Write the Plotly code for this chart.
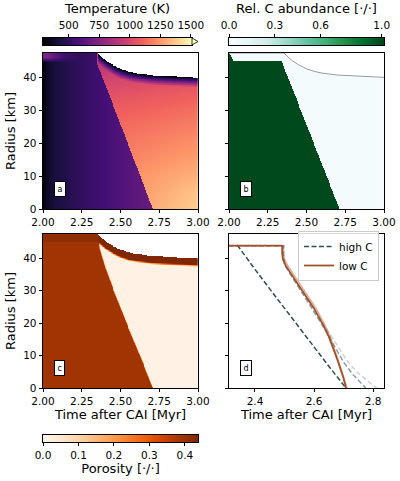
import numpy as np
import plotly.graph_objects as go

# ---- data ----
# planetesimal surface radius vs time
surface_t = [2.00, 2.355, 2.38, 2.41, 2.45, 2.50, 2.55, 2.60, 2.70, 2.80, 3.00]
surface_r = [47.4, 47.4, 46.2, 45.0, 43.8, 42.6, 41.8, 41.3, 40.7, 40.4, 40.0]

# reaction front (panels a / b): time the front reaches a given radius
front_r = [0.0, 44.8]
front_t = [2.712, 2.346]
front_b_r = [0.0, 45.0]
front_b_t = [2.716, 2.340]
front_c_r = [0.0, 7.5, 19.0, 30.5, 37.0, 43.0, 47.4]
front_c_t = [2.712, 2.650, 2.550, 2.455, 2.405, 2.368, 2.360]

# temperature (K)
cold_t = [2.00, 2.02, 2.05, 2.10, 2.20, 2.30, 2.40, 2.50, 2.60, 2.72]
cold_T = [290, 350, 400, 436, 485, 522, 558, 595, 632, 668]
hot_r = [0, 5, 10, 15, 20, 25, 30, 35, 40, 45]
hot_T_front = [1300, 1270, 1240, 1200, 1165, 1130, 1090, 1040, 975, 900]
hot_T_end = [1385, 1360, 1310, 1265, 1225, 1185, 1140, 1090, 1030, 960]
streak_t = [2.00, 2.05, 2.10, 2.15, 2.25]
streak_dT = [420, 300, 170, 70, 0]
crust_T = 300
crust_depth = 3.0

# relative C abundance
cap_t = [2.00, 2.03, 2.34]
cap_r = [47.4, 45.0, 45.0]
c_high = 1.0
c_low = 0.02

# porosity
por_cold = 0.39
por_cap = 0.415
por_hot = 0.015
por_crust = 0.435
band_depth = 2.0
band_fade = 0.7

# panel d: front position (radius vs time)
highC_t = [2.340, 2.348, 2.362, 2.40, 2.45, 2.50, 2.55, 2.60, 2.65, 2.708]
highC_r = [44.0, 43.0, 41.0, 36.5, 30.5, 24.5, 18.5, 12.6, 6.7, 0.0]
highC2_t = [2.312, 2.495, 2.495, 2.50, 2.52, 2.55, 2.58, 2.61, 2.64, 2.67, 2.70, 2.73, 2.755, 2.775]
highC2_r = [43.8, 43.8, 40.5, 38.0, 35.0, 30.8, 26.5, 22.0, 17.5, 12.6, 8.0, 4.3, 1.8, 0.0]
highC3_t = [2.312, 2.498, 2.498, 2.503, 2.523, 2.553, 2.583, 2.613, 2.645, 2.68, 2.715, 2.75, 2.785, 2.812]
highC3_r = [43.8, 43.8, 40.5, 38.0, 35.0, 30.8, 26.5, 22.0, 17.5, 12.6, 8.0, 4.5, 1.8, 0.0]
lowC_t = [2.312, 2.492, 2.492, 2.495, 2.505, 2.53, 2.56, 2.60, 2.63, 2.65, 2.68, 2.70, 2.708]
lowC_r = [43.8, 43.8, 41.5, 39.5, 37.5, 34.0, 30.0, 24.5, 19.5, 15.8, 8.5, 3.0, 0.0]
lowC2_t = [2.312, 2.497, 2.497, 2.500, 2.512, 2.538, 2.568, 2.607, 2.636, 2.655, 2.682, 2.702, 2.712]
lowC2_r = [43.8, 43.8, 41.5, 39.5, 37.5, 34.0, 30.0, 24.5, 19.5, 15.8, 8.5, 3.0, 0.0]

T_range = [290, 1510]
C_range = [0, 1.015]
P_range = [0, 0.437]
R_MAX = 47.4

FONT = "DejaVu Sans"
W, H = 400, 481


def fx(p):
    return p / W


def fy(p):
    return 1 - p / H


# ---- build the rasters ----
t_grid = np.linspace(2.0, 3.0, 320)
r_grid = np.linspace(0, R_MAX, 240)
tt, rr = np.meshgrid(t_grid, r_grid)
surf = np.interp(tt, surface_t, surface_r)
depth = surf - rr
outside = rr > surf

# temperature
fa = np.interp(rr, front_r, front_t)
w = np.clip((tt - fa) / (3.0 - fa), 0, 1)
Th = np.interp(rr, hot_r, hot_T_front) * (1 - w) + np.interp(rr, hot_r, hot_T_end) * w
Tc = np.interp(tt, cold_t, cold_T) + np.interp(tt, streak_t, streak_dT) * np.clip((rr - 44.5) / 1.5, 0, 1)
T = np.where(tt < fa, Tc, Th)
ramp = np.clip(depth / crust_depth, 0, 1)
T = np.where(tt > 2.355, crust_T + (T - crust_T) * ramp, T)
T[outside] = np.nan

# carbon
fb = np.interp(rr, front_b_r, front_b_t)
cap = np.interp(tt, cap_t, cap_r)
C = np.where((tt < fb) & (rr <= cap), c_high, c_low)
C[outside] = np.nan

# porosity
fc = np.interp(rr, front_c_r, front_c_t)
edge = np.clip((tt - fc + 0.004) / 0.008, 0, 1)
P = por_cold + (por_hot - por_cold) * edge
P = np.where((tt < 2.36) & (rr > 45.0), por_cap, P)
band = np.clip((depth - band_depth) / band_fade, 0, 1)
P = np.where(tt >= 2.36, por_crust + (P - por_crust) * band, P)
P[outside] = np.nan

fig = go.Figure()

fig.add_trace(go.Heatmap(x=t_grid, y=r_grid, z=T.astype(np.float32), colorscale="Magma",
                         zmin=T_range[0], zmax=T_range[1], showscale=False,
                         xaxis="x", yaxis="y", hoverinfo="skip"))
fig.add_trace(go.Heatmap(x=t_grid, y=r_grid, z=C.astype(np.float32), colorscale="BuGn",
                         zmin=C_range[0], zmax=C_range[1], showscale=False,
                         xaxis="x2", yaxis="y2", hoverinfo="skip"))
fig.add_trace(go.Scatter(x=surface_t, y=surface_r, mode="lines", line=dict(color="#9a9a9a", width=1),
                         showlegend=False, xaxis="x2", yaxis="y2"))
fig.add_trace(go.Heatmap(x=t_grid, y=r_grid, z=P.astype(np.float32), colorscale="Oranges",
                         zmin=P_range[0], zmax=P_range[1], showscale=False,
                         xaxis="x3", yaxis="y3", hoverinfo="skip"))

# panel d
dash = "5px,2.5px"
fig.add_trace(go.Scatter(x=highC3_t, y=highC3_r, mode="lines", showlegend=False,
                         line=dict(color="rgba(47,79,79,0.25)", width=1.5, dash=dash), xaxis="x4", yaxis="y4"))
fig.add_trace(go.Scatter(x=highC2_t, y=highC2_r, mode="lines", showlegend=False,
                         line=dict(color="rgba(47,79,79,0.55)", width=1.5, dash=dash), xaxis="x4", yaxis="y4"))
fig.add_trace(go.Scatter(x=lowC2_t, y=lowC2_r, mode="lines", showlegend=False,
                         line=dict(color="rgba(160,82,45,0.45)", width=1.5), xaxis="x4", yaxis="y4"))
fig.add_trace(go.Scatter(x=highC_t, y=highC_r, mode="lines", name="high C",
                         line=dict(color="#2f4f4f", width=1.5, dash=dash), xaxis="x4", yaxis="y4"))
fig.add_trace(go.Scatter(x=lowC_t, y=lowC_r, mode="lines", name="low C",
                         line=dict(color="#a0522d", width=1.8), xaxis="x4", yaxis="y4"))

# colorbars drawn as thin heatmap strips
for rng, cs, ax in [(T_range, "Magma", "5"), (C_range, "BuGn", "6"), (P_range, "Oranges", "7")]:
    g = np.linspace(rng[0], rng[1], 200)
    fig.add_trace(go.Heatmap(x=g, y=[0], z=[g], colorscale=cs, zmin=rng[0], zmax=rng[1],
                             showscale=False, zsmooth="best", hoverinfo="skip",
                             xaxis="x" + ax, yaxis="y" + ax))

tick_font = dict(family=FONT, size=10.5, color="black")
title_font = dict(family=FONT, size=13, color="black")
frame = dict(showline=True, mirror=True, linecolor="black", linewidth=0.8,
             ticks="outside", ticklen=3.5, tickwidth=0.8, tickcolor="black",
             showgrid=False, zeroline=False, tickfont=tick_font, tickangle=0, automargin=False)
bar_y = dict(range=[-0.5, 0.5], showline=True, mirror=True, linecolor="black", linewidth=0.8,
             showticklabels=False, ticks="", showgrid=False, zeroline=False, automargin=False)

x_ab = [fx(43), fx(198)]
x_bd = [fx(229), fx(384)]
y_top = [fy(209), fy(53)]
y_bot = [fy(388), fy(234)]

t_ticks = [2.0, 2.25, 2.5, 2.75, 3.0]
t_labels = ["2.00", "2.25", "2.50", "2.75", "3.00"]
r_ticks = [0, 10, 20, 30, 40]

layout = dict(
    width=W, height=H, margin=dict(l=0, r=0, t=0, b=0),
    paper_bgcolor="white", plot_bgcolor="white",
    font=dict(family=FONT, color="black"),
    xaxis=dict(domain=x_ab, anchor="y", range=[2, 3], tickvals=t_ticks, ticktext=t_labels, **frame),
    yaxis=dict(domain=y_top, anchor="x", range=[0, R_MAX], tickvals=r_ticks,
               title=dict(text="Radius [km]", font=title_font, standoff=4), **frame),
    xaxis2=dict(domain=x_bd, anchor="y2", range=[2, 3], tickvals=t_ticks, ticktext=t_labels, **frame),
    yaxis2=dict(domain=y_top, anchor="x2", range=[0, R_MAX], tickvals=r_ticks, showticklabels=False, **frame),
    xaxis3=dict(domain=x_ab, anchor="y3", range=[2, 3], tickvals=t_ticks, ticktext=t_labels,
                title=dict(text="Time after CAI [Myr]", font=title_font, standoff=2), **frame),
    yaxis3=dict(domain=y_bot, anchor="x3", range=[0, R_MAX], tickvals=r_ticks,
                title=dict(text="Radius [km]", font=title_font, standoff=4), **frame),
    xaxis4=dict(domain=x_bd, anchor="y4", range=[2.312, 2.837], tickvals=[2.4, 2.6, 2.8],
                ticktext=["2.4", "2.6", "2.8"],
                title=dict(text="Time after CAI [Myr]", font=title_font, standoff=2), **frame),
    yaxis4=dict(domain=y_bot, anchor="x4", range=[0, R_MAX], tickvals=r_ticks, showticklabels=False, **frame),
    xaxis5=dict(domain=[fx(43), fx(192)], anchor="y5", range=T_range, side="top",
                tickvals=[500, 750, 1000, 1250, 1500],
                title=dict(text="Temperature (K)", font=title_font, standoff=2), **frame),
    yaxis5=dict(domain=[fy(45), fy(38)], anchor="x5", **bar_y),
    xaxis6=dict(domain=x_bd, anchor="y6", range=C_range, side="top",
                tickvals=[0, 0.3, 0.6, 1.0], ticktext=["0.0", "0.3", "0.6", "1.0"],
                title=dict(text="Rel. C abundance [\u00b7/\u00b7]", font=title_font, standoff=2), **frame),
    yaxis6=dict(domain=[fy(45), fy(38)], anchor="x6", **bar_y),
    xaxis7=dict(domain=x_ab, anchor="y7", range=P_range,
                tickvals=[0, 0.1, 0.2, 0.3, 0.4], ticktext=["0.0", "0.1", "0.2", "0.3", "0.4"],
                title=dict(text="Porosity [\u00b7/\u00b7]", font=title_font, standoff=2), **frame),
    yaxis7=dict(domain=[fy(442), fy(435)], anchor="x7", **bar_y),
    legend=dict(x=fx(379), y=fy(231), xanchor="right", yanchor="top",
                bgcolor="rgba(255,255,255,0.85)", bordercolor="#cccccc", borderwidth=1,
                font=dict(family=FONT, size=10.5, color="black"), itemwidth=30, tracegroupgap=0),
)
fig.update_layout(**layout)

# panel letters
for ax, letter in [("", "a"), ("2", "b"), ("3", "c"), ("4", "d")]:
    fig.add_annotation(x=0.07, y=0.08, xref="x" + ax + " domain", yref="y" + ax + " domain",
                       text=letter, showarrow=False, font=dict(family=FONT, size=8, color="black"),
                       bgcolor="white", bordercolor="black", borderwidth=1, borderpad=2.5)

# "extend max" arrow on the temperature colorbar
fig.add_shape(type="path", xref="paper", yref="paper",
              path=f"M {fx(192)},{fy(38)} L {fx(198)},{fy(41.5)} L {fx(192)},{fy(45)} Z",
              fillcolor="#fcfdbf", line=dict(color="black", width=0.8))

fig.write_html("out.html", config={"displayModeBar": False},
               post_script="document.body.style.margin='0';")
